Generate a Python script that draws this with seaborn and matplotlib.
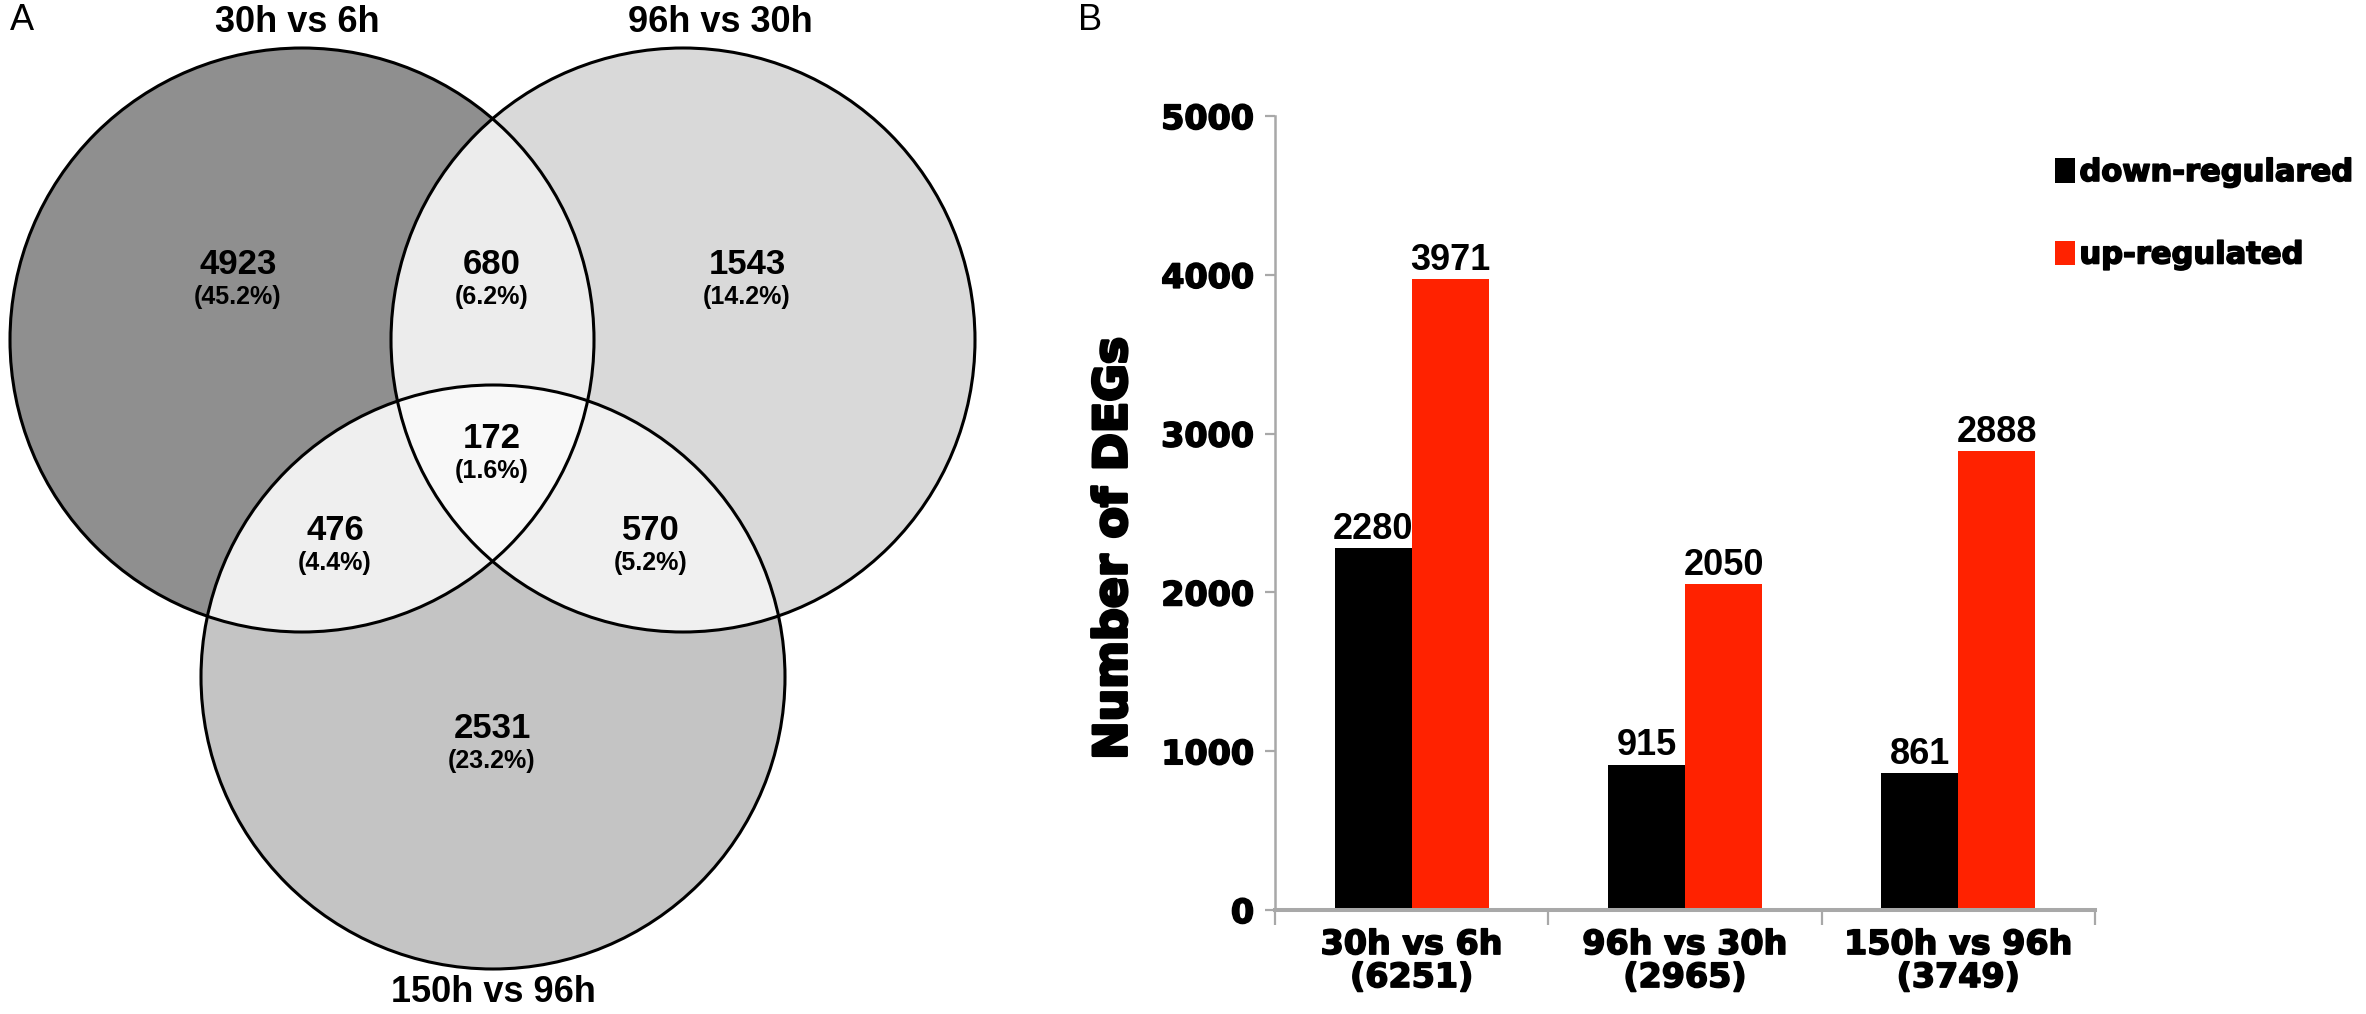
import numpy as np
import pandas as pd
import matplotlib
matplotlib.use("Agg")
import matplotlib.pyplot as plt
import matplotlib.patheffects as pe
import seaborn as sns
from matplotlib.patches import Circle

# ---------------- data ----------------
venn_sets = ["30h vs 6h", "96h vs 30h", "150h vs 96h"]
# region order: A only, A&B, B only, A&C, A&B&C, B&C, C only
venn_counts = [4923, 680, 1543, 476, 172, 570, 2531]
venn_pcts = ["(45.2%)", "(6.2%)", "(14.2%)", "(4.4%)", "(1.6%)", "(5.2%)", "(23.2%)"]

comparisons = ["30h vs 6h", "96h vs 30h", "150h vs 96h"]
totals = [6251, 2965, 3749]
down_regulated = [2280, 915, 861]
up_regulated = [3971, 2050, 2888]
series_names = ["down-regulared", "up-regulated"]
y_ticks = [0, 1000, 2000, 3000, 4000, 5000]

# ---------------- style ----------------
sns.set_theme(style="white")
plt.rcParams["font.family"] = ["DejaVu Sans"]
for k in ["text.color", "axes.labelcolor", "xtick.labelcolor", "ytick.labelcolor"]:
    plt.rcParams[k] = "black"

heavy = [pe.withStroke(linewidth=1.2, foreground="black")]
heavier = [pe.withStroke(linewidth=2.2, foreground="black")]

W_PX, H_PX = 2366, 1014
fig = plt.figure(figsize=(W_PX / 100, H_PX / 100), dpi=100)

# ---------------- Panel A : Venn ----------------
VW = 1050
axv = fig.add_axes([0, 0, VW / W_PX, 1])
centers = [(302, 340), (683, 340), (493, 677)]
radius = 292
yy, xx = np.mgrid[0:H_PX, 0:VW] + 0.5
code = np.zeros((H_PX, VW), dtype=int)
for k, (cx, cy) in enumerate(centers):
    code += ((xx - cx) ** 2 + (yy - cy) ** 2 <= radius ** 2).astype(int) << k
lut = np.array([
    [255, 255, 255],  # none
    [143, 143, 143],  # A only
    [217, 217, 217],  # B only
    [236, 236, 236],  # A&B
    [196, 196, 196],  # C only
    [239, 239, 239],  # A&C
    [240, 240, 240],  # B&C
    [248, 248, 248],  # A&B&C
], dtype=np.uint8)
axv.imshow(lut[code], extent=(0, VW, H_PX, 0), interpolation="nearest")
for (cx, cy) in centers:
    axv.add_patch(Circle((cx, cy), radius, fill=False, ec="black", lw=2.2))
axv.set_xlim(0, VW)
axv.set_ylim(H_PX, 0)
axv.axis("off")

region_pos = [(238, 264), (492, 264), (747, 264), (335, 530), (492, 438), (651, 530), (492, 728)]
for (x, y), n, p in zip(region_pos, venn_counts, venn_pcts):
    axv.text(x, y, str(n), ha="center", va="center", fontsize=25,
             fontweight="bold", family="Liberation Sans", color="black")
    axv.text(x, y + 33, p, ha="center", va="center", fontsize=18,
             fontweight="bold", family="Liberation Sans", color="black")

title_pos = [(297, 22), (720, 22), (493, 992)]
for (x, y), t in zip(title_pos, venn_sets):
    axv.text(x, y, t, ha="center", va="center", fontsize=26,
             fontweight="bold", family="Liberation Sans", color="black")

fig.text(22 / W_PX, 1 - 20 / H_PX, "A", ha="center", va="center",
         fontsize=26, family="Liberation Sans", color="black")
fig.text(1090 / W_PX, 1 - 20 / H_PX, "B", ha="center", va="center",
         fontsize=26, family="Liberation Sans", color="black")

# ---------------- Panel B : bars ----------------
df = pd.DataFrame({
    "comparison": comparisons * 2,
    "regulation": [series_names[0]] * 3 + [series_names[1]] * 3,
    "count": down_regulated + up_regulated,
})

x0, x1 = 1275, 2095
y0, y1 = 910, 116
ax = fig.add_axes([x0 / W_PX, (H_PX - y0) / H_PX, (x1 - x0) / W_PX, (y0 - y1) / H_PX])
sns.barplot(data=df, x="comparison", y="count", hue="regulation",
            palette=["#000000", "#ff2200"], width=0.564, gap=0,
            saturation=1, linewidth=0, ax=ax)

ax.set_xlim(-0.5, 2.5)
ax.set_ylim(0, 5000)
ax.set_yticks(y_ticks)
ax.set_yticklabels([str(t) for t in y_ticks], fontsize=24, fontweight="bold", color="black")
ax.set_xticks(range(len(comparisons)))
ax.set_xticklabels([f"{c}\n({t})" for c, t in zip(comparisons, totals)],
                   fontsize=24, fontweight="bold", linespacing=1.0, color="black")
ax.set_xticks([-0.5, 0.5, 1.5, 2.5], minor=True)
ax.set_xlabel("")
for lab in ax.get_xticklabels() + ax.get_yticklabels():
    lab.set_path_effects(heavy)

for s in ["top", "right"]:
    ax.spines[s].set_visible(False)
ax.spines["left"].set_color("#a8a8a8")
ax.spines["left"].set_linewidth(1.8)
ax.spines["bottom"].set_color("#a8a8a8")
ax.spines["bottom"].set_linewidth(2.9)

ax.tick_params(axis="y", left=True, length=7, width=1.6, color="#a8a8a8", pad=8)
ax.tick_params(axis="x", which="major", bottom=False, length=0, pad=13)
ax.tick_params(axis="x", which="minor", bottom=True, length=11, width=1.6, color="#a8a8a8")

ax.set_ylabel("Number of DEGs", fontsize=33, fontweight="heavy", color="black",
              path_effects=heavier)
ax.yaxis.set_label_coords(-0.169, 0.456)

for cont in ax.containers:
    ax.bar_label(cont, fontsize=26, fontweight="bold", family="Liberation Sans",
                 padding=1, color="black")

handles, labels = ax.get_legend_handles_labels()
leg = ax.legend(handles, labels, loc="upper left",
                bbox_to_anchor=(2055 / W_PX, 1 - 158 / H_PX), bbox_transform=fig.transFigure,
                frameon=False, prop={"weight": "bold", "size": 22},
                handlelength=0.65, handleheight=0.85, handletextpad=0.15,
                labelspacing=1.75, borderpad=0, borderaxespad=0)
for t in leg.get_texts():
    t.set_color("black")
    t.set_path_effects(heavy)

fig.savefig("out.png", dpi=100, facecolor="white")
